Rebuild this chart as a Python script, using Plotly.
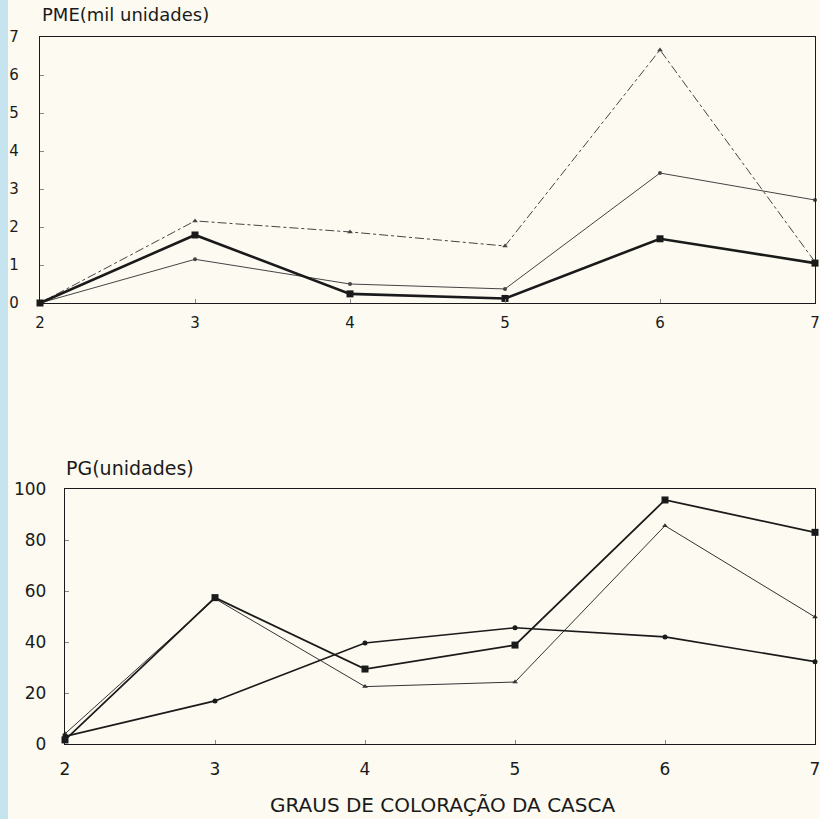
import plotly.graph_objects as go

graus = [2, 3, 4, 5, 6, 7]

# PME (mil unidades)
pme_quadrado = [0.0, 1.79, 0.24, 0.12, 1.69, 1.05]
pme_circulo = [0.0, 1.15, 0.50, 0.37, 3.42, 2.71]
pme_triangulo = [0.0, 2.16, 1.87, 1.50, 6.66, 1.08]

# PG (unidades)
pg_quadrado = [1.6, 57.4, 29.4, 38.8, 95.7, 83.0]
pg_circulo = [3.0, 16.9, 39.6, 45.6, 42.0, 32.3]
pg_triangulo = [4.0, 57.0, 22.5, 24.3, 85.6, 49.8]

W, H = 820, 819
FONT = "DejaVu Sans, Liberation Sans, Arial, sans-serif"
INK = "#1a1a1a"
BG = "#fcfaf1"

fig = go.Figure()

def add(x, y, xa, ya, sym, size, width, color, dash="solid"):
    fig.add_trace(go.Scatter(
        x=x, y=y, xaxis=xa, yaxis=ya, mode="lines+markers",
        line=dict(color=color, width=width, dash=dash),
        marker=dict(symbol=sym, size=size, color=color),
        showlegend=False, cliponaxis=False))

# top panel
add(graus, pme_triangulo, "x", "y", "triangle-up", 5, 1.0, "#444444", "dashdot")
add(graus, pme_circulo, "x", "y", "circle", 4, 1.0, "#444444")
add(graus, pme_quadrado, "x", "y", "square", 7, 2.6, INK)
# bottom panel
add(graus, pg_triangulo, "x2", "y2", "triangle-up", 5, 1.0, "#333333")
add(graus, pg_circulo, "x2", "y2", "circle", 5, 1.6, INK)
add(graus, pg_quadrado, "x2", "y2", "square", 7, 1.8, INK)

def axis(**kw):
    d = dict(showgrid=False, zeroline=False, showline=True, linecolor=INK,
             linewidth=1.3, mirror=True, ticks="inside", tickcolor="#888888",
             ticklen=4, automargin=False, ticklabeloverflow="allow")
    d.update(kw)
    return d

fig.update_layout(
    width=W, height=H, margin=dict(l=0, r=0, t=0, b=0, autoexpand=False),
    paper_bgcolor=BG, plot_bgcolor=BG,
    xaxis=axis(domain=[40 / W, 815 / W], range=[2, 7], tickvals=graus, anchor="y",
               tickfont=dict(size=15, family=FONT, color=INK), ticklabelstandoff=6),
    yaxis=axis(domain=[1 - 303 / H, 1 - 37 / H], range=[0, 7], dtick=1, anchor="x",
               tickfont=dict(size=15, family=FONT, color=INK), ticklabelstandoff=17),
    xaxis2=axis(domain=[65 / W, 815 / W], range=[2, 7], tickvals=graus, anchor="y2",
                tickfont=dict(size=17, family=FONT, color=INK), ticklabelstandoff=9),
    yaxis2=axis(domain=[1 - 744 / H, 1 - 489 / H], range=[0, 100], dtick=20, anchor="x2",
                tickfont=dict(size=17, family=FONT, color=INK), ticklabelstandoff=14),
    font=dict(family=FONT, color=INK),
)

# light blue strip at left edge of the scan
fig.add_shape(type="rect", xref="paper", yref="paper", x0=0, x1=8 / W, y0=0, y1=1,
              fillcolor="#c6e4f0", line_width=0, layer="below")

fig.add_annotation(text="PME(mil unidades)", xref="paper", yref="paper",
                   x=40 / W, y=1 - 14 / H, xanchor="left", yanchor="middle",
                   showarrow=False, font=dict(size=18, family=FONT, color=INK))
fig.add_annotation(text="PG(unidades)", xref="paper", yref="paper",
                   x=64 / W, y=1 - 468 / H, xanchor="left", yanchor="middle",
                   showarrow=False, font=dict(size=19, family=FONT, color=INK))
fig.add_annotation(text="GRAUS DE COLORAÇÃO DA CASCA", xref="paper", yref="paper",
                   x=442 / W, y=1 - 805 / H, xanchor="center", yanchor="middle",
                   showarrow=False, font=dict(size=20, family=FONT, color=INK))

fig.write_html("out.html")
